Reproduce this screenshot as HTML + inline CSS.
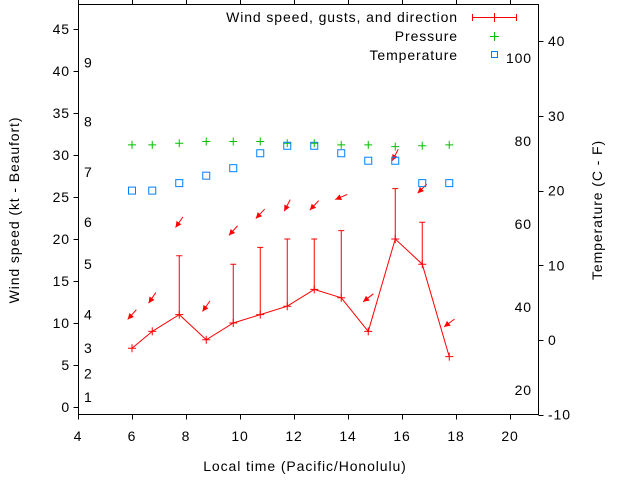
<!DOCTYPE html>
<html><head><meta charset="utf-8"><style>
body{margin:0;background:#fff;}
svg{display:block;font-family:"Liberation Sans",sans-serif;}
text{letter-spacing:0.9px;}
</style></head><body>
<svg id="c" width="640" height="480" xmlns="http://www.w3.org/2000/svg"></svg>
<script>
const times=[6,6.75,7.75,8.75,9.75,10.75,11.75,12.75,13.75,14.75,15.75,16.75,17.75];
const wind=[7,9,11,8,10,11,12,14,13,9,20,17,6];
const gusts=[null,null,18,null,17,19,20,20,21,null,26,22,null];
const windDir=[42,34,35,35,42,43,27,43,67,52,28,45,53];
const pressure=[1015.6,1015.6,1015.7,1015.8,1015.8,1015.8,1015.7,1015.7,1015.6,1015.6,1015.5,1015.55,1015.6];
const temperature=[20,20,21,22,23,25,26,26,25,24,24,21,21];
const xTicks=[4,6,8,10,12,14,16,18,20];
const yTicks=[0,5,10,15,20,25,30,35,40,45];
const y2Ticks=[-10,0,10,20,30,40];
const fTicks=[20,40,60,80,100];
const beaufortLabels=[1,2,3,4,5,6,7,8,9];
const beaufortKt=[1.2,4,7,11,17,22,28,34,41];

const L=78.5,R=538.5,T=4.5,B=414.5;
const X=v=>78+(v-4)*27;
const Y=v=>407-v*8.4;
const Y2=v=>340-v*7.47;
const P=p=>Y((p-1000)*2);
const F=f=>Y2((f-32)*5/9);
const svg=document.getElementById('c');
const NS='http://www.w3.org/2000/svg';
function mk(tag,attrs,parent){const e=document.createElementNS(NS,tag);for(const k in attrs)e.setAttribute(k,attrs[k]);(parent||svg).appendChild(e);return e;}
function txt(s,x,y,anchor,name){const t=mk('text',{x:x,y:y,'font-size':14,fill:'#000','text-anchor':anchor||'middle'});t.textContent=s;


return t;}

const frame=mk('path',{d:`M${L} ${T}H${R}V${B}H${L}Z`,fill:'none',stroke:'#000','stroke-width':1});



xTicks.forEach(v=>{
  const xx=X(v)+0.5;
  const tk=mk('path',{d:`M${xx} ${B}v5M${xx} ${T}v-5`,stroke:'#000'});
  
  
  txt(String(v),X(v),441,'middle','x-tick-label');
});
yTicks.forEach(v=>{
  const tk=mk('path',{d:`M${L} ${Math.round(Y(v))+0.5}h-5`,stroke:'#000'});
  
  
  txt(String(v),70,Y(v)+5,'end','y-tick-label');
});
y2Ticks.forEach(v=>{
  const tk=mk('path',{d:`M${R} ${Math.round(Y2(v))+0.5}h5`,stroke:'#000'});
  
  
  txt(String(v),548,Y2(v)+5,'start','y2-tick-label');
});
fTicks.forEach(v=>{txt(String(v),532,F(v)+5,'end','fahrenheit-label');});
beaufortLabels.forEach((b,i)=>{txt(String(b),84,Y(beaufortKt[i])+5,'start','beaufort-label');});

txt('Local time (Pacific/Honolulu)',305,471,'middle','x-axis-title');
const yt=txt('Wind speed (kt - Beaufort)',0,0,'middle','y-axis-title');
yt.setAttribute('transform','translate(19,210) rotate(-90)');
const y2t=txt('Temperature (C - F)',0,0,'middle','y2-axis-title');
y2t.setAttribute('transform','translate(602,210) rotate(-90)');

const wl=mk('polyline',{points:times.map((t,i)=>X(t)+','+Y(wind[i])).join(' '),fill:'none',stroke:'#f00','stroke-width':1});


times.forEach((t,i)=>{
  const x=X(t),y=Y(wind[i]);
  const m=mk('path',{d:`M${x-4} ${y}h8M${x} ${y-4}v8`,stroke:'#f00'});
  
  
  if(gusts[i]!=null){
    const g=Y(gusts[i]);
    const e=mk('path',{d:`M${x} ${y}V${g}M${x-3} ${g}h6`,stroke:'#f00'});
    
    
  }
  const top=Math.max(wind[i],gusts[i]||0)+4;
  const cy=Y(top),a=windDir[i]*Math.PI/180,h=6.5;
  const dx=Math.sin(a)*h,dy=-Math.cos(a)*h;
  const tx=x+dx,ty=cy+dy,hx=x-dx,hy=cy-dy;
  const ux=-dx/h,uy=-dy/h,px=-uy,py=ux;
  const g=mk('g',{});
  
  
  mk('line',{x1:tx,y1:ty,x2:hx,y2:hy,stroke:'#f00'},g);
  mk('polygon',{points:`${hx},${hy} ${hx-ux*6+px*3},${hy-uy*6+py*3} ${hx-ux*6-px*3},${hy-uy*6-py*3}`,fill:'#f00'},g);
});
times.forEach((t,i)=>{
  const x=X(t),y=P(pressure[i]);
  const m=mk('path',{d:`M${x-4} ${y}h8M${x} ${y-4}v8`,stroke:'#00c000'});
  
  
});
times.forEach((t,i)=>{
  const x=X(t),y=Y2(temperature[i]);
  const m=mk('rect',{x:x-3.5,y:y-3.5,width:7,height:7,fill:'none',stroke:'#0080ff'});
  
  
});
txt('Wind speed, gusts, and direction',458,22,'end','legend-wind-label');
const lw=mk('path',{d:'M472 17.5h44M472.5 14v7M516.5 14v7M494.5 13v9',stroke:'#f00'});


txt('Pressure',458,41,'end','legend-pressure-label');
const lp=mk('path',{d:'M490 36.5h9M494.5 32v9',stroke:'#00c000'});


txt('Temperature',458,60,'end','legend-temperature-label');
const lt=mk('rect',{x:491.5,y:51.5,width:6,height:6,fill:'none',stroke:'#0080ff'});


</script>
</body></html>
